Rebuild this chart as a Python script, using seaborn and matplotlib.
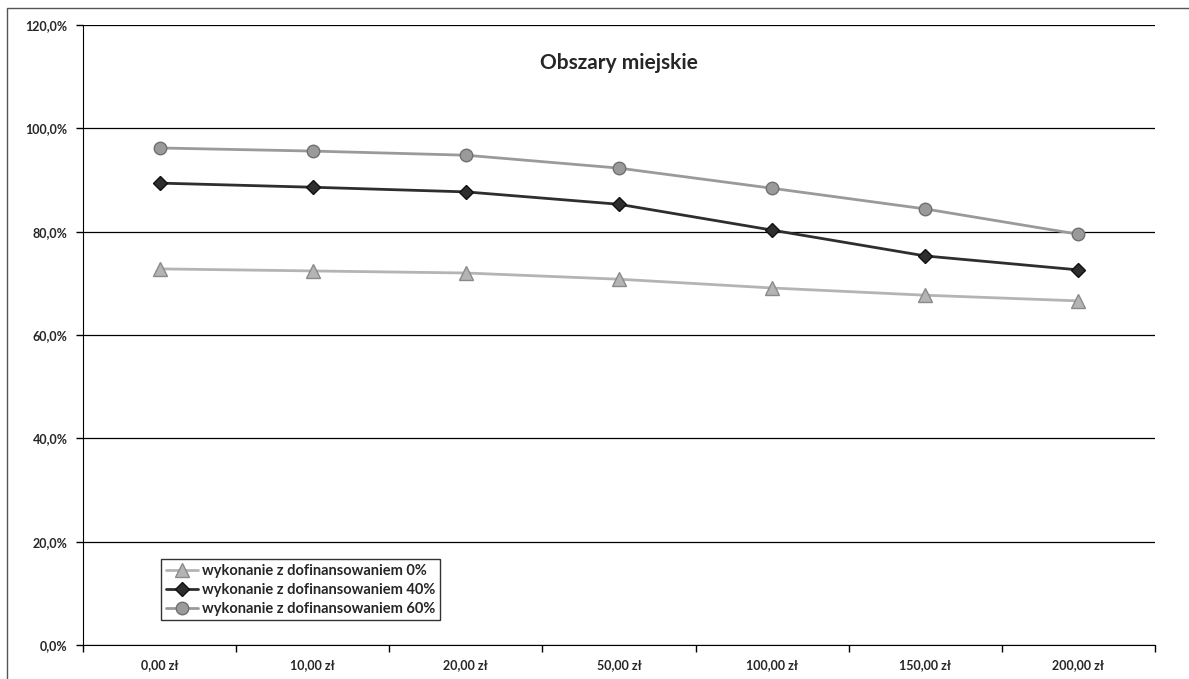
import pandas as pd
import numpy as np
import matplotlib.pyplot as plt
import seaborn as sns
from matplotlib.patches import Rectangle


categories = ['0,00 zł', '10,00 zł', '20,00 zł', '50,00 zł', '100,00 zł', '150,00 zł', '200,00 zł']
dof_0 = [72.8, 72.4, 72.0, 70.8, 69.1, 67.7, 66.6]
dof_40 = [89.4, 88.6, 87.7, 85.3, 80.3, 75.3, 72.6]
dof_60 = [96.2, 95.6, 94.8, 92.3, 88.4, 84.4, 79.5]
series_names = ['wykonanie z dofinansowaniem 0%',
                'wykonanie z dofinansowaniem 40%',
                'wykonanie z dofinansowaniem 60%']
y_ticks = [0, 20, 40, 60, 80, 100, 120]

# long form table for seaborn
rows = []
for name, vals in zip(series_names, [dof_0, dof_40, dof_60]):
    for i, v in enumerate(vals):
        rows.append({'pos': i, 'value': v, 'series': name})
df = pd.DataFrame(rows)

sns.set_style('white')
plt.rcParams['font.family'] = ['Lato', 'DejaVu Sans']

fig = plt.figure(figsize=(11.89, 6.79), dpi=100)
ax = fig.add_axes([83 / 1189, 34 / 679, 1072 / 1189, 620 / 679])

palette = {series_names[0]: '#b4b4b4', series_names[1]: '#2e2e2e', series_names[2]: '#9a9a9a'}
markers = {series_names[0]: '^', series_names[1]: 'D', series_names[2]: 'o'}
edge = {series_names[0]: '#8a8a8a', series_names[1]: '#111111', series_names[2]: '#707070'}
sizes = {series_names[0]: 10, series_names[1]: 7, series_names[2]: 9}

for name in series_names:
    sub = df[df['series'] == name]
    sns.lineplot(data=sub, x='pos', y='value', ax=ax, color=palette[name], lw=2,
                 marker=markers[name], markersize=sizes[name], markeredgecolor=edge[name],
                 markeredgewidth=1, label=name)

ax.set_xlim(-0.5, len(categories) - 0.5)
ax.set_ylim(0, 120)
ax.set_yticks(y_ticks)
ax.set_yticklabels([f'{t:.1f}%'.replace('.', ',') for t in y_ticks], fontsize=9, fontweight='bold')
ax.set_xticks(range(len(categories)))
ax.set_xticklabels(categories, fontsize=9, fontweight='bold')
ax.set_xticks(np.arange(len(categories) + 1) - 0.5, minor=True)
ax.tick_params(axis='x', which='major', length=0, pad=10)
ax.tick_params(axis='x', which='minor', length=5, color='black', width=1, direction='out', bottom=True)
ax.tick_params(axis='y', length=5, color='black', width=1, direction='out', left=True, pad=6)
ax.yaxis.grid(True, color='black', lw=0.9)
ax.set_axisbelow(True)
ax.set_xlabel('')
ax.set_ylabel('')
for s in ['top', 'right']:
    ax.spines[s].set_visible(False)
ax.spines['left'].set_color('black')
ax.spines['bottom'].set_color('black')

ax.set_title('Obszary miejskie', fontsize=15, fontweight='bold', y=0.915)

leg = ax.legend(loc='lower left', bbox_to_anchor=(0.073, 0.04), fontsize=10.5, frameon=True,
                fancybox=False, edgecolor='black', borderpad=0.3, labelspacing=0.35,
                handlelength=2.2, handletextpad=0.3, borderaxespad=0)
leg.get_frame().set_linewidth(1)
for t in leg.get_texts():
    t.set_fontweight('bold')

fig.patches.append(Rectangle((7 / 1189, -0.01), 1.1, 1.01 - 8 / 679, transform=fig.transFigure,
                             fill=False, edgecolor='#555555', lw=1))

fig.savefig('out.png', dpi=100)
